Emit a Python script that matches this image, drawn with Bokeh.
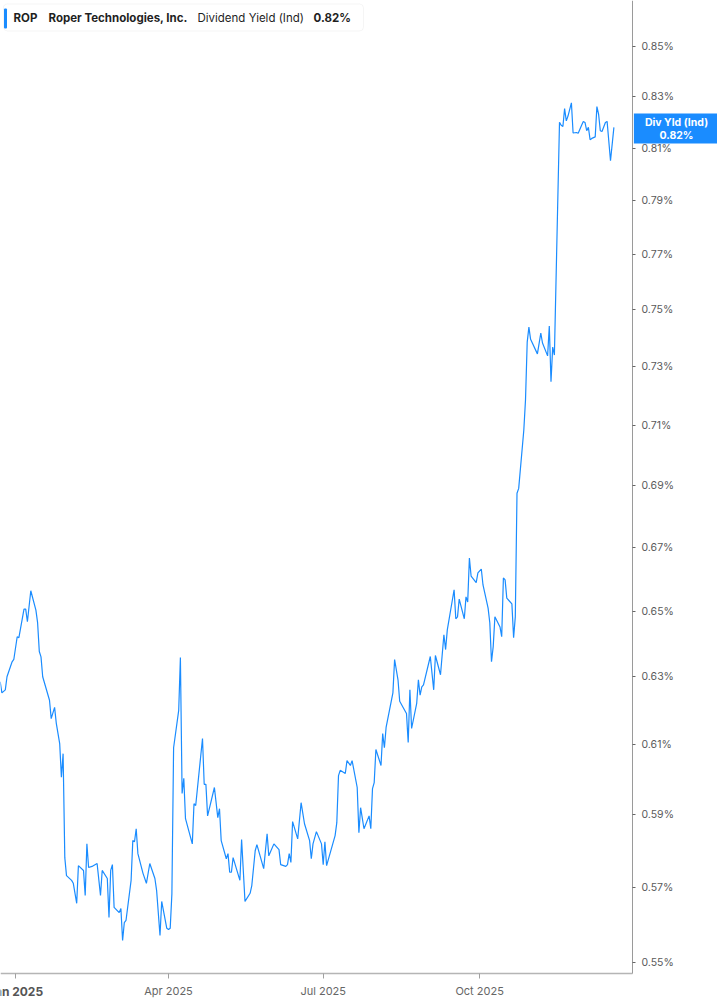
import math
import pandas as pd
from bokeh.plotting import figure
from bokeh.models import (FixedTicker, PrintfTickFormatter, CustomJSTickFormatter,
                          Label, BoxAnnotation, Range1d)
from bokeh.embed import file_html
from bokeh.resources import INLINE

# ---------------- data ----------------
dates = [
    "2024-12-23", "2024-12-24", "2024-12-26", "2024-12-27", "2024-12-30", "2024-12-31",
    "2025-01-02", "2025-01-03", "2025-01-06", "2025-01-07", "2025-01-08", "2025-01-10",
    "2025-01-13", "2025-01-14", "2025-01-15", "2025-01-16", "2025-01-17", "2025-01-21",
    "2025-01-22", "2025-01-24", "2025-01-25", "2025-01-27", "2025-01-28", "2025-01-29",
    "2025-01-30", "2025-01-31", "2025-02-03", "2025-02-04", "2025-02-06", "2025-02-07",
    "2025-02-10", "2025-02-11", "2025-02-12", "2025-02-13", "2025-02-15", "2025-02-18",
    "2025-02-20", "2025-02-21", "2025-02-24", "2025-02-25", "2025-02-26", "2025-02-27",
    "2025-02-28", "2025-03-03", "2025-03-04", "2025-03-05", "2025-03-06", "2025-03-07",
    "2025-03-10", "2025-03-11", "2025-03-12", "2025-03-13", "2025-03-14", "2025-03-17",
    "2025-03-19", "2025-03-21", "2025-03-24", "2025-03-25", "2025-03-27", "2025-03-28",
    "2025-03-31", "2025-04-01", "2025-04-02", "2025-04-03", "2025-04-04", "2025-04-07",
    "2025-04-08", "2025-04-09", "2025-04-10", "2025-04-11", "2025-04-15", "2025-04-16",
    "2025-04-17", "2025-04-21", "2025-04-22", "2025-04-23", "2025-04-24", "2025-04-28",
    "2025-04-30", "2025-05-01", "2025-05-02", "2025-05-05", "2025-05-06", "2025-05-07",
    "2025-05-08", "2025-05-09", "2025-05-13", "2025-05-14", "2025-05-16", "2025-05-19",
    "2025-05-20", "2025-05-22", "2025-05-23", "2025-05-27", "2025-05-29", "2025-05-30",
    "2025-06-02", "2025-06-05", "2025-06-06", "2025-06-09", "2025-06-10", "2025-06-11",
    "2025-06-12", "2025-06-13", "2025-06-16", "2025-06-18", "2025-06-20", "2025-06-23",
    "2025-06-24", "2025-06-25", "2025-06-27", "2025-06-30", "2025-07-01", "2025-07-02",
    "2025-07-03", "2025-07-08", "2025-07-09", "2025-07-10", "2025-07-11", "2025-07-14",
    "2025-07-15", "2025-07-17", "2025-07-18", "2025-07-21", "2025-07-22", "2025-07-23",
    "2025-07-25", "2025-07-28", "2025-07-29", "2025-07-30", "2025-07-31", "2025-08-01",
    "2025-08-04", "2025-08-05", "2025-08-06", "2025-08-07", "2025-08-11", "2025-08-12",
    "2025-08-14", "2025-08-15", "2025-08-18", "2025-08-19", "2025-08-20", "2025-08-21",
    "2025-08-22", "2025-08-25", "2025-08-26", "2025-08-27", "2025-08-28", "2025-08-29",
    "2025-09-02", "2025-09-04", "2025-09-05", "2025-09-08", "2025-09-10", "2025-09-11",
    "2025-09-12", "2025-09-16", "2025-09-17", "2025-09-18", "2025-09-19", "2025-09-22",
    "2025-09-23", "2025-09-24", "2025-09-25", "2025-09-26", "2025-09-29", "2025-09-30",
    "2025-10-02", "2025-10-03", "2025-10-06", "2025-10-07", "2025-10-08", "2025-10-09",
    "2025-10-10", "2025-10-13", "2025-10-14", "2025-10-15", "2025-10-16", "2025-10-17",
    "2025-10-20", "2025-10-21", "2025-10-22", "2025-10-23", "2025-10-24", "2025-10-27",
    "2025-10-28", "2025-10-29", "2025-10-30", "2025-10-31", "2025-11-04", "2025-11-06",
    "2025-11-07", "2025-11-10", "2025-11-11", "2025-11-12", "2025-11-13", "2025-11-14",
    "2025-11-17", "2025-11-18", "2025-11-19", "2025-11-20", "2025-11-21", "2025-11-22",
    "2025-11-24", "2025-11-25", "2025-11-27", "2025-11-28", "2025-11-30", "2025-12-01",
    "2025-12-02", "2025-12-03", "2025-12-04", "2025-12-05", "2025-12-06", "2025-12-08",
    "2025-12-09", "2025-12-10", "2025-12-11", "2025-12-12", "2025-12-14", "2025-12-15",
    "2025-12-17", "2025-12-19",
]

div_yield = [
    0.6285, 0.6252, 0.6261, 0.6300, 0.6345, 0.6352,
    0.6421, 0.6418, 0.6506, 0.6506, 0.6467, 0.6563,
    0.6503, 0.6464, 0.6376, 0.6360, 0.6300, 0.6230,
    0.6176, 0.6209, 0.6162, 0.6103, 0.6006, 0.6074,
    0.5781, 0.5732, 0.5719, 0.5711, 0.5657, 0.5759,
    0.5746, 0.5678, 0.5819, 0.5754, 0.5757, 0.5765,
    0.5678, 0.5746, 0.5724, 0.5619, 0.5746, 0.5762,
    0.5646, 0.5632, 0.5643, 0.5558, 0.5605, 0.5611,
    0.5719, 0.5828, 0.5825, 0.5861, 0.5792, 0.5738,
    0.5711, 0.5765, 0.5724, 0.5692, 0.5571, 0.5662,
    0.5590, 0.5587, 0.5590, 0.5683, 0.6091, 0.6200,
    0.6358, 0.5960, 0.6003, 0.5889, 0.5819, 0.5931,
    0.5926, 0.6118, 0.5986, 0.5986, 0.5897, 0.5977,
    0.5892, 0.5917, 0.5828, 0.5778, 0.5792, 0.5741,
    0.5741, 0.5781, 0.5719, 0.5831, 0.5662, 0.5684,
    0.5705, 0.5800, 0.5817, 0.5751, 0.5847, 0.5786,
    0.5819, 0.5803, 0.5762, 0.5757, 0.5762, 0.5792,
    0.5768, 0.5881, 0.5833, 0.5934, 0.5875, 0.5828,
    0.5778, 0.5819, 0.5853, 0.5819, 0.5762, 0.5825,
    0.5759, 0.5842, 0.5878, 0.6011, 0.6026, 0.6017,
    0.6054, 0.6040, 0.6054, 0.5977, 0.5850, 0.5920,
    0.5861, 0.5897, 0.5861, 0.5974, 0.5991, 0.6086,
    0.6040, 0.6132, 0.6091, 0.6150, 0.6252, 0.6352,
    0.6291, 0.6227, 0.6200, 0.6191, 0.6106, 0.6261,
    0.6147, 0.6221, 0.6291, 0.6245, 0.6270, 0.6276,
    0.6361, 0.6261, 0.6364, 0.6306, 0.6427, 0.6382,
    0.6442, 0.6566, 0.6476, 0.6482, 0.6537, 0.6476,
    0.6544, 0.6528, 0.6666, 0.6609, 0.6588, 0.6619,
    0.6631, 0.6581, 0.6509, 0.6464, 0.6345, 0.6391,
    0.6482, 0.6451, 0.6421, 0.6603, 0.6597, 0.6540,
    0.6522, 0.6418, 0.6482, 0.6874, 0.6890, 0.7083,
    0.7186, 0.7386, 0.7439, 0.7396, 0.7345, 0.7418,
    0.7383, 0.7338, 0.7443, 0.7248, 0.7369, 0.7341,
    0.8200, 0.8188, 0.8183, 0.8253, 0.8205, 0.8224,
    0.8276, 0.8158, 0.8160, 0.8157, 0.8188, 0.8203,
    0.8199, 0.8167, 0.8180, 0.8132, 0.8137, 0.8143,
    0.8261, 0.8231, 0.8167, 0.8164, 0.8199, 0.8203,
    0.8051, 0.8180,
]

ticker_symbol = "ROP"
company_name = "Roper Technologies, Inc."
metric_name = "Dividend Yield (Ind)"
badge_title = "Div Yld (Ind)"

x_tick_dates = ["2025-01-01", "2025-04-01", "2025-07-01", "2025-10-01"]
x_tick_labels = ["Jan 2025", "Apr 2025", "Jul 2025", "Oct 2025"]
y_tick_values = [0.55, 0.57, 0.59, 0.61, 0.63, 0.65, 0.67, 0.69,
                 0.71, 0.73, 0.75, 0.77, 0.79, 0.81, 0.83, 0.85]

# ---------------- layout / style ----------------
FONT = "Inter"
BLUE = "#1a8cff"
W, H = 717, 1005
AXIS_X_PX, AXIS_Y_PX = 632, 973       # where the right and bottom axes sit
PX_PER_DAY, JAN_PX = 1.70, 15.0        # horizontal scale
ANCHOR_V, ANCHOR_PX, PX_PER_LN = 0.55, 962.0, 2104.0   # vertical (log) scale
DAY_MS = 86400000.0
JAN_MS = pd.Timestamp(x_tick_dates[0]).value / 1e6


def to_ms(ts):
    return pd.Timestamp(ts).value / 1e6


def ms_at(px):
    return JAN_MS + (px - JAN_PX) / PX_PER_DAY * DAY_MS


def v_at(py):
    return ANCHOR_V * math.exp((ANCHOR_PX - py) / PX_PER_LN)


x_vals = pd.to_datetime(dates)

p = figure(width=W, height=H, x_axis_type="datetime", y_axis_type="log",
           y_axis_location="right",
           x_range=Range1d(ms_at(0), ms_at(W)),
           y_range=Range1d(v_at(H), v_at(0)),
           output_backend="svg", toolbar_location=None,
           min_border=0, min_border_left=0, min_border_top=0,
           min_border_right=0, min_border_bottom=0)

p.outline_line_color = None
p.grid.visible = False
p.background_fill_color = "white"
p.border_fill_color = "white"

p.line(x_vals, div_yield, line_color=BLUE, line_width=1.2)

# y axis (right), pinned inside the canvas
ya = p.yaxis[0]
ya.fixed_location = ms_at(AXIS_X_PX)
ya.bounds = (v_at(AXIS_Y_PX), v_at(0))
ya.ticker = FixedTicker(ticks=y_tick_values, minor_ticks=[])
ya.formatter = PrintfTickFormatter(format="%.2f%%")
ya.major_label_text_font = FONT
ya.major_label_text_font_size = "10.5px"
ya.major_label_text_color = "#5a5a5a"
ya.axis_line_color = "#9a9a9a"
ya.axis_line_width = 1
ya.major_tick_out = 3
ya.major_tick_in = 0
ya.major_tick_line_color = "#666666"
ya.minor_tick_line_color = None
ya.major_label_standoff = 6

# x axis (bottom), pinned inside the canvas
xa = p.xaxis[0]
xa.fixed_location = v_at(AXIS_Y_PX)
xa.bounds = (ms_at(0), ms_at(AXIS_X_PX))
xa.ticker = FixedTicker(ticks=[to_ms(d) for d in x_tick_dates], minor_ticks=[])
xa.formatter = CustomJSTickFormatter(code="return ''")
xa.axis_line_color = "#b5b5b5"
xa.axis_line_width = 1.5
xa.major_tick_out = 5
xa.major_tick_in = 0
xa.major_tick_line_color = "#a0a0a0"
xa.minor_tick_line_color = None

for d, lbl in zip(x_tick_dates, x_tick_labels):
    is_year = lbl.startswith("Jan")
    p.add_layout(Label(x=to_ms(d), y=v_at(990.5), text=lbl,
                       text_align="center", text_baseline="middle",
                       text_font=FONT,
                       text_font_size="12px" if is_year else "11px",
                       text_font_style="bold" if is_year else "normal",
                       text_color="#555555" if is_year else "#666666"))

# header box (top-left)
p.add_layout(BoxAnnotation(left=ms_at(3), right=ms_at(363),
                           top=v_at(3.5), bottom=v_at(30.5),
                           fill_color="white", fill_alpha=1.0,
                           line_color="#dddddd", line_width=1, border_radius=4))
p.add_layout(BoxAnnotation(left=ms_at(3.5), right=ms_at(6.5),
                           top=v_at(8), bottom=v_at(28),
                           fill_color=BLUE, fill_alpha=1.0, line_color=None,
                           border_radius=1))
header = [(ticker_symbol, "bold", 13), (company_name, "bold", 48),
          (metric_name, "normal", 197), (f"{div_yield[-1]:.2f}%", "bold", 313)]
for txt, style, xpos in header:
    p.add_layout(Label(x=ms_at(xpos), y=v_at(17), text=txt,
                       text_align="left", text_baseline="middle",
                       text_font=FONT, text_font_size="11.5px",
                       text_font_style=style, text_color="#1f1f1f"))

# last value badge on the right axis
p.add_layout(Label(x=ms_at(676), y=v_at(128),
                   text=f"{badge_title}\n{div_yield[-1]:.2f}%",
                   text_align="center", text_baseline="middle",
                   text_font=FONT, text_font_size="10.5px", text_font_style="bold",
                   text_color="white", text_line_height=1.0,
                   background_fill_color=BLUE, background_fill_alpha=1.0,
                   padding=(11, 2)))

open("out.html", "w").write(file_html(p, INLINE))
